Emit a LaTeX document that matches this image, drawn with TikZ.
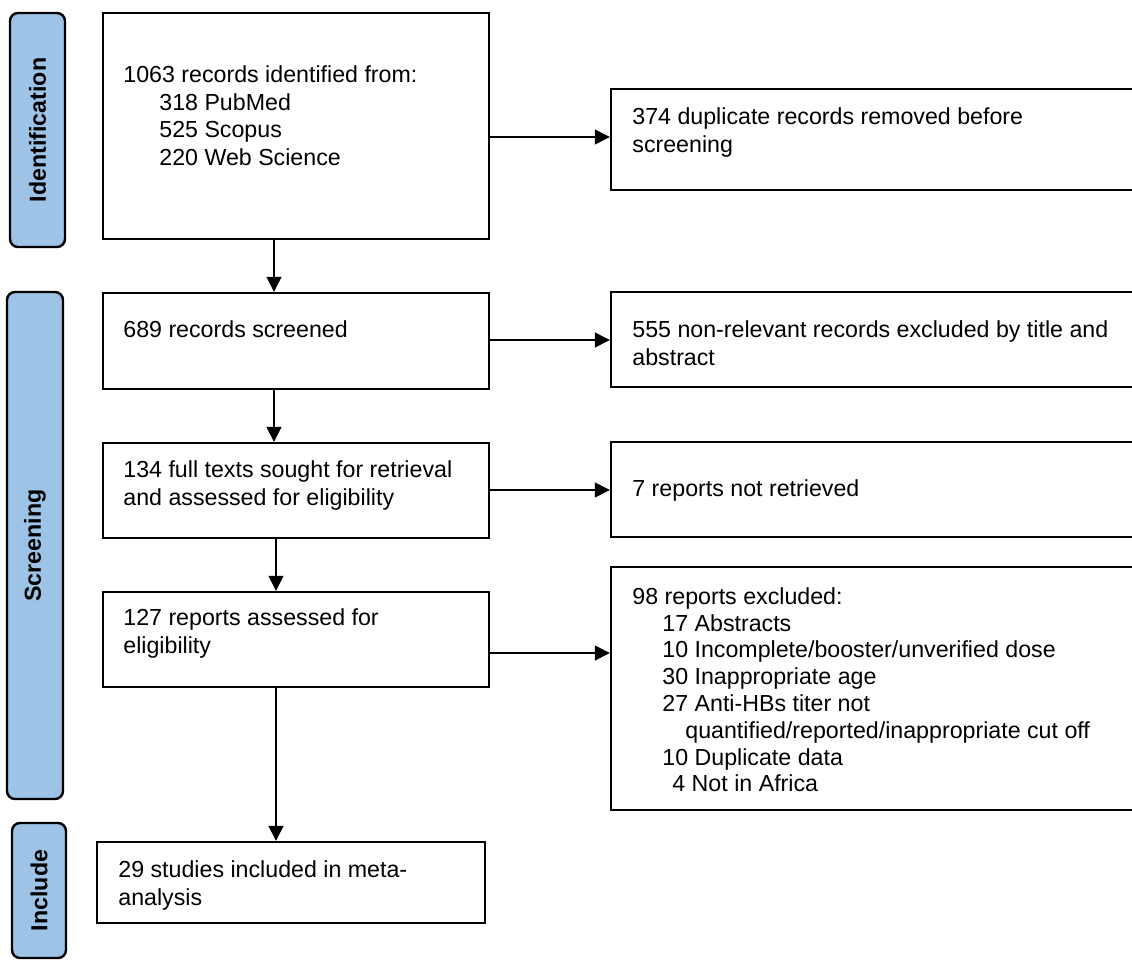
\documentclass[tikz,border=0pt]{standalone}
\usepackage{fontspec}
\setmainfont{Liberation Sans}
\usepackage{xcolor}
\usepackage{tikz}
\usetikzlibrary{arrows.meta,fit}

\definecolor{stageblue}{HTML}{9DC3E6}

\begin{document}
\begin{tikzpicture}[x=0.5pt,y=-0.5pt,>={Triangle[length=7.5pt,width=7.5pt]},
  box/.style={draw,line width=1.2pt,inner sep=0pt},
  stage/.style={draw,line width=1.2pt,rounded corners=4pt,fill=stageblue,inner sep=0pt},
  stagetext/.style={rotate=90,inner sep=0pt,font=\fontsize{11.6pt}{13.9pt}\selectfont\bfseries},
  boxtext/.style={anchor=north west,inner sep=0pt,align=left,font=\fontsize{11.6pt}{13.9pt}\selectfont},
  flow/.style={->,line width=0.65pt}]
  \useasboundingbox (0,0) rectangle (1132,960);

  % stage labels
  \node[stage,fit={(10,13) (65,247)}] (identlab) {};
  \node[stagetext] (identname) at (identlab.center) {Identification};
  \node[stage,fit={(7,292) (63,799)}] (screenlab) {};
  \node[stagetext] (screenname) at (screenlab.center) {Screening};
  \node[stage,fit={(12,823) (66,958)}] (incllab) {};
  \node[stagetext] (inclname) at (incllab.center) {Include};

  % main column
  \node[box,fit={(103,13) (489,239)}] (ident) {};
  \node[boxtext] (identtext) at (123,65) {1063 records identified from:\\\hspace*{18pt}318 PubMed\\\hspace*{18pt}525 Scopus\\\hspace*{18pt}220 Web Science};
  \node[box,fit={(103,293) (489,389)}] (screen) {};
  \node[boxtext] (screentext) at (123,320) {689 records screened};
  \node[box,fit={(103,443) (489,538)}] (sought) {};
  \node[boxtext] (soughttext) at (123,460) {134 full texts sought for retrieval\\and assessed for eligibility};
  \node[box,fit={(103,592) (489,687)}] (assess) {};
  \node[boxtext] (assesstext) at (123,608) {127 reports assessed for\\eligibility};
  \node[box,fit={(97,842) (485,923)}] (incl) {};
  \node[boxtext] (incltext) at (118,860) {29 studies included in meta-\\analysis};

  % excluded column
  \node[box,fit={(611,89) (1140,190)}] (dup) {};
  \node[boxtext] (duptext) at (632,107) {374 duplicate records removed before\\screening};
  \node[box,fit={(611,292) (1140,387)}] (nonrel) {};
  \node[boxtext] (nonreltext) at (632,320) {555 non-relevant records excluded by title and\\abstract};
  \node[box,fit={(611,442) (1140,537)}] (notret) {};
  \node[boxtext,anchor=west] (notrettext) at (632,490) {7 reports not retrieved};
  \node[box,fit={(611,567) (1140,810)}] (excl) {};
  \node[boxtext,font=\fontsize{11.6pt}{13.4pt}\selectfont] (excltext) at (632,587) {98 reports excluded:\\
    \hspace*{15pt}17 Abstracts\\
    \hspace*{15pt}10 Incomplete/booster/unverified dose\\
    \hspace*{15pt}30 Inappropriate age\\
    \hspace*{15pt}27 Anti-HBs titer not\\
    \hspace*{26.5pt}quantified/reported/inappropriate cut off\\
    \hspace*{15pt}10 Duplicate data\\
    \hspace*{20pt}4 Not in Africa};

  % arrows
  \coordinate (spine) at (274,0);
  \coordinate (spinelow) at (276,0);
  \draw[flow] (ident.south -| spine) -- (screen.north -| spine);
  \draw[flow] (screen.south -| spine) -- (sought.north -| spine);
  \draw[flow] (sought.south -| spinelow) -- (assess.north -| spinelow);
  \draw[flow] (assess.south -| spinelow) -- (incl.north -| spinelow);
  \draw[flow] (ident.east |- 0,137) -- (dup.west |- 0,137);
  \draw[flow] (screen.east |- 0,340) -- (nonrel.west |- 0,340);
  \draw[flow] (sought.east |- 0,490) -- (notret.west |- 0,490);
  \draw[flow] (assess.east |- 0,653) -- (excl.west |- 0,653);
\end{tikzpicture}
\end{document}
